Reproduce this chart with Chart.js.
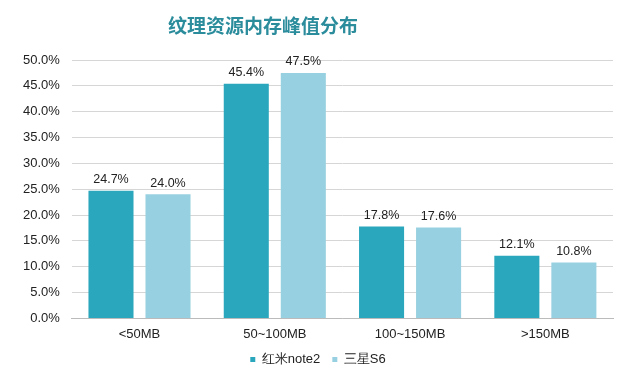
<!DOCTYPE html>
<html><head><meta charset="utf-8">
<script src="https://cdn.jsdelivr.net/npm/chart.js@4"></script>
<style>html,body{margin:0;padding:0;background:#fff;}#wrap{width:640px;height:375px;}</style>
</head><body><div id="wrap"><canvas id="c" width="640" height="375"></canvas></div>
<script>
const categories = ['<50MB', '50~100MB', '100~150MB', '>150MB'];
const seriesNames = ['红米note2', '三星S6'];
const redmiValues = [24.7, 45.4, 17.8, 12.1];
const samsungValues = [24.0, 47.5, 17.6, 10.8];
const yTicks = [0, 5, 10, 15, 20, 25, 30, 35, 40, 45, 50];
const chartTitle = '纹理资源内存峰值分布';
const FONT = '"Liberation Sans", Arial, sans-serif';

const labelPlugin = {
  id: 'valueLabels',
  afterDatasetsDraw(chart) {
    const ctx = chart.ctx;
    ctx.save();
    ctx.font = '12.5px ' + FONT;
    ctx.fillStyle = '#222';
    ctx.textAlign = 'center';
    ctx.textBaseline = 'bottom';
    chart.data.datasets.forEach((ds, i) => {
      chart.getDatasetMeta(i).data.forEach((bar, j) => {
        ctx.fillText(ds.data[j].toFixed(1) + '%', bar.x, bar.y - 5);
      });
    });
    ctx.restore();
  }
};

const titlePlugin = {
  id: 'customTitle',
  afterDraw(chart) {
    const ctx = chart.ctx;
    ctx.save();
    ctx.font = 'bold 19px "Noto Sans CJK SC", sans-serif';
    ctx.fillStyle = '#2b8c9c';
    ctx.textAlign = 'center';
    ctx.textBaseline = 'middle';
    ctx.fillText(chartTitle, 263, 26);
    ctx.restore();
  }
};

new Chart(document.getElementById('c'), {
  type: 'bar',
  data: {
    labels: categories,
    datasets: [
      { label: seriesNames[0], data: redmiValues, backgroundColor: '#2aa7bd', borderWidth: 0 },
      { label: seriesNames[1], data: samsungValues, backgroundColor: '#97d0e0', borderWidth: 0 }
    ]
  },
  options: {
    responsive: false,
    animation: false,
    devicePixelRatio: 1,
    layout: { padding: { left: 23, right: 27, top: 60, bottom: -1 } },
    datasets: { bar: { categoryPercentage: 0.843, barPercentage: 0.79 } },
    plugins: {
      title: { display: false },
      legend: {
        position: 'bottom',
        labels: {
          usePointStyle: true,
          pointStyle: 'rect',
          boxWidth: 5,
          boxHeight: 5,
          color: '#222',
          padding: 12,
          font: { family: FONT, size: 13 }
        }
      },
      tooltip: { enabled: false }
    },
    scales: {
      x: {
        grid: { display: false, drawTicks: false },
        border: { color: '#bbb' },
        ticks: { color: '#222', font: { family: FONT, size: 13 }, padding: 8 },
        afterFit(axis) { axis.height -= 9; }
      },
      y: {
        min: 0, max: 50,
        afterBuildTicks(axis) { axis.ticks = yTicks.map(v => ({ value: v })); },
        grid: { color: '#d6d6d6', tickLength: 12, tickColor: '#fff' },
        border: { display: false },
        ticks: {
          color: '#222',
          font: { family: FONT, size: 13 },
          padding: 0,
          callback: v => v.toFixed(1) + '%'
        }
      }
    }
  },
  plugins: [labelPlugin, titlePlugin]
});
</script></body></html>
